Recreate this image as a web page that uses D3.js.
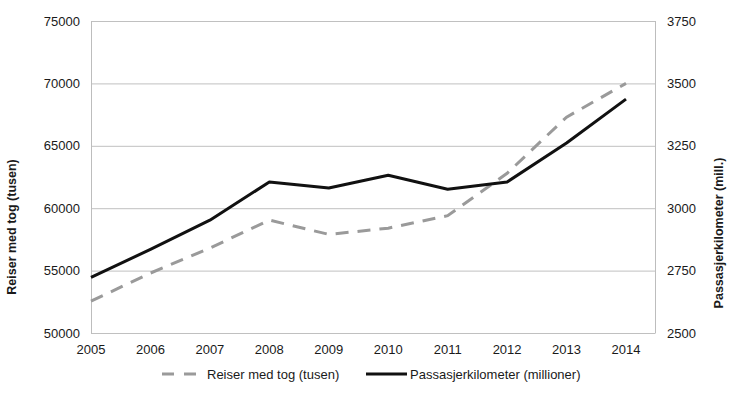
<!DOCTYPE html>
<html>
<head>
<meta charset="utf-8">
<title>Reiser med tog</title>
<style type="text/css">
body { margin: 0; background: #fff; }
svg text { font-family: "Liberation Sans", Arial, sans-serif; fill: #1a1a1a; }
</style>
<script src="https://cdn.jsdelivr.net/npm/d3@7"></script>
</head>
<body>
<script type="text/javascript">
var years = [2005, 2006, 2007, 2008, 2009, 2010, 2011, 2012, 2013, 2014];
var reiser = [52550, 54800, 56800, 59050, 57900, 58400, 59400, 62800, 67300, 70000];	// tusen
var pkm = [2723, 2835, 2952, 3105, 3081, 3132, 3076, 3105, 3261, 3437];				// mill.
var leftTicks = [50000, 55000, 60000, 65000, 70000, 75000];
var rightTicks = [2500, 2750, 3000, 3250, 3500, 3750];

var width = 730, height = 398;
var plot = { left: 91, right: 655, top: 21, bottom: 333 };

var svg = d3.select("body").append("svg")
	.attr("width", width)
	.attr("height", height);

var x = d3.scalePoint().domain(years).range([plot.left, 626]);
var yL = d3.scaleLinear().domain([50000, 75000]).range([plot.bottom, plot.top]);
var yR = d3.scaleLinear().domain([2500, 3750]).range([plot.bottom, plot.top]);

// gridlines
svg.append("g")
	.selectAll("line")
	.data(leftTicks)
	.enter().append("line")
	.attr("x1", plot.left).attr("x2", plot.right)
	.attr("y1", function(d){ return yL(d) + 0.5; })
	.attr("y2", function(d){ return yL(d) + 0.5; })
	.attr("stroke", "#c0c0c0");

// side axis lines
[plot.left, plot.right].forEach(function(px){
	svg.append("line")
		.attr("x1", px + 0.5).attr("x2", px + 0.5)
		.attr("y1", plot.top).attr("y2", plot.bottom + 0.5)
		.attr("stroke", "#bdbdbd");
});

// left tick labels
svg.append("g")
	.selectAll("text")
	.data(leftTicks)
	.enter().append("text")
	.attr("x", 80)
	.attr("y", function(d){ return yL(d); })
	.attr("dy", "0.35em")
	.attr("text-anchor", "end")
	.style("font-size", "13px")
	.text(function(d){ return d; });

// right tick labels
svg.append("g")
	.selectAll("text")
	.data(rightTicks)
	.enter().append("text")
	.attr("x", 667)
	.attr("y", function(d){ return yR(d); })
	.attr("dy", "0.35em")
	.attr("text-anchor", "start")
	.style("font-size", "13px")
	.text(function(d){ return d; });

// x labels
svg.append("g")
	.selectAll("text")
	.data(years)
	.enter().append("text")
	.attr("x", function(d){ return x(d); })
	.attr("y", 354)
	.attr("text-anchor", "middle")
	.style("font-size", "13px")
	.text(function(d){ return d; });

// axis titles
svg.append("text")
	.attr("transform", "translate(16,227) rotate(-90)")
	.attr("text-anchor", "middle")
	.style("font-size", "12.5px")
	.style("font-weight", "bold")
	.text("Reiser med tog (tusen)");

svg.append("text")
	.attr("transform", "translate(723,233) rotate(-90)")
	.attr("text-anchor", "middle")
	.style("font-size", "12.5px")
	.style("font-weight", "bold")
	.text("Passasjerkilometer (mill.)");

// lines
var lineL = d3.line()
	.x(function(d, i){ return x(years[i]); })
	.y(function(d){ return yL(d); });
var lineR = d3.line()
	.x(function(d, i){ return x(years[i]); })
	.y(function(d){ return yR(d); });

svg.append("path")
	.datum(reiser)
	.attr("d", lineL)
	.attr("fill", "none")
	.attr("stroke", "#9a9a9a")
	.attr("stroke-width", 3)
	.attr("stroke-dasharray", "13,9");

svg.append("path")
	.datum(pkm)
	.attr("d", lineR)
	.attr("fill", "none")
	.attr("stroke", "#111")
	.attr("stroke-width", 3)
	.attr("stroke-linejoin", "round");

// legend
var lg = svg.append("g");
lg.append("line")
	.attr("x1", 162).attr("x2", 201).attr("y1", 374).attr("y2", 374)
	.attr("stroke", "#9a9a9a").attr("stroke-width", 3)
	.attr("stroke-dasharray", "12,10");
lg.append("text")
	.attr("x", 207).attr("y", 374).attr("dy", "0.35em")
	.style("font-size", "13px")
	.text("Reiser med tog (tusen)");
lg.append("line")
	.attr("x1", 366).attr("x2", 407).attr("y1", 374).attr("y2", 374)
	.attr("stroke", "#111").attr("stroke-width", 3);
lg.append("text")
	.attr("x", 410).attr("y", 374).attr("dy", "0.35em")
	.style("font-size", "13px")
	.text("Passasjerkilometer (millioner)");
</script>
</body>
</html>
